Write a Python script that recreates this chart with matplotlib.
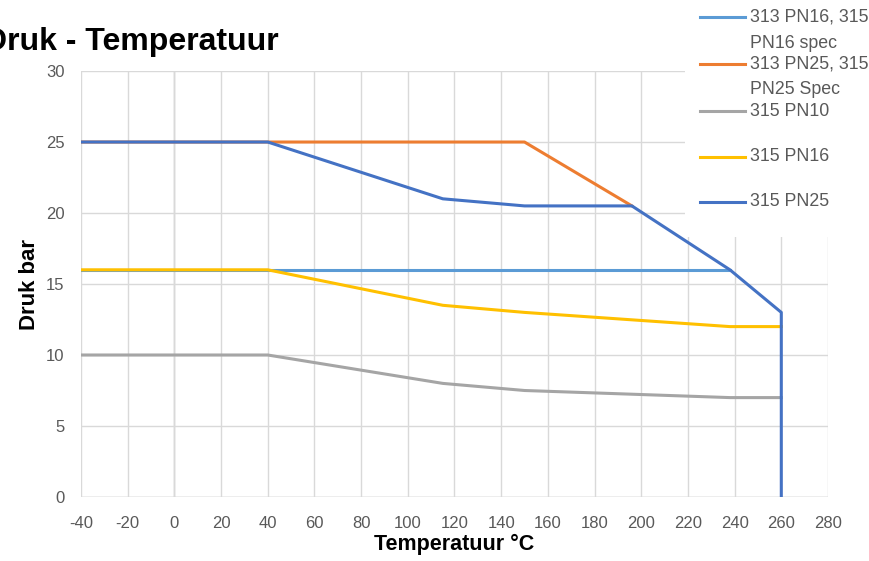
import matplotlib.pyplot as plt
from matplotlib.lines import Line2D
from matplotlib.patches import Rectangle

# data
pn16_spec_t = [-40, 238]
pn16_spec_p = [16, 16]
pn25_spec_t = [-40, 150, 196]
pn25_spec_p = [25, 25, 20.5]
pn10_t = [-40, 40, 115, 150, 238, 260]
pn10_p = [10, 10, 8, 7.5, 7, 7]
pn16_t = [-40, 40, 115, 150, 238, 260]
pn16_p = [16, 16, 13.5, 13, 12, 12]
pn25_t = [-40, 40, 115, 150, 196, 238, 260, 260]
pn25_p = [25, 25, 21, 20.5, 20.5, 16, 13, 0]

series = [
    ("313 PN16, 315\nPN16 spec", pn16_spec_t, pn16_spec_p, "#5B9BD5"),
    ("313 PN25, 315\nPN25 Spec", pn25_spec_t, pn25_spec_p, "#ED7D31"),
    ("315 PN10", pn10_t, pn10_p, "#A5A5A5"),
    ("315 PN16", pn16_t, pn16_p, "#FFC000"),
    ("315 PN25", pn25_t, pn25_p, "#4472C4"),
]
xticks = list(range(-40, 281, 20))
yticks = list(range(0, 31, 5))

plt.rcParams['font.family'] = ['Liberation Sans', 'DejaVu Sans']
plt.rcParams['axes.unicode_minus'] = False

fig = plt.figure(figsize=(8.7, 5.61), dpi=100)
ax = fig.add_axes([0.0931, 0.1141, 0.8586, 0.7593])

for lab, t, p, c in series:
    ax.plot(t, p, color=c, lw=2.2, solid_joinstyle='round', zorder=3)

ax.set_xlim(-40, 280)
ax.set_ylim(0, 30)
ax.set_xticks(xticks)
ax.set_yticks(yticks)
ax.grid(True, color="#D9D9D9", lw=1)
ax.axvline(0, color="#BFBFBF", lw=1, zorder=1)
ax.axhline(0, color="#BFBFBF", lw=1, zorder=1)
for s in ax.spines.values():
    s.set_visible(False)
ax.tick_params(length=0, colors="#595959", labelsize=12)
ax.tick_params(axis='x', pad=14)
ax.tick_params(axis='y', pad=12)

ax.set_xlabel("Temperatuur °C", fontsize=15.5, fontweight='bold', labelpad=2)
ax.set_ylabel("Druk bar", fontsize=16, fontweight='bold', labelpad=4)
fig.text(-0.018, 1 - 50 / 561, "Druk - Temperatuur", fontsize=23, fontweight='bold',
         ha='left', va='baseline')

# legend drawn by hand (white box over grid)
fig.patches.append(Rectangle((685 / 870, 1 - 237 / 561), 185 / 870, 237 / 561,
                             transform=fig.transFigure, facecolor='white',
                             edgecolor='none', zorder=5))
ys = [17, 64, 111, 157, 202]
for (lab, t, p, c), y in zip(series, ys):
    fy = 1 - y / 561
    fig.add_artist(Line2D([700 / 870, 745 / 870], [fy, fy], color=c, lw=2.2,
                          transform=fig.transFigure, zorder=6))
    for k, line in enumerate(lab.split("\n")):
        fig.text(750 / 870, 1 - (y + 26 * k) / 561, line, fontsize=12.8,
                 color="#595959", ha='left', va='center', zorder=7)

fig.savefig("out.png", dpi=100)
